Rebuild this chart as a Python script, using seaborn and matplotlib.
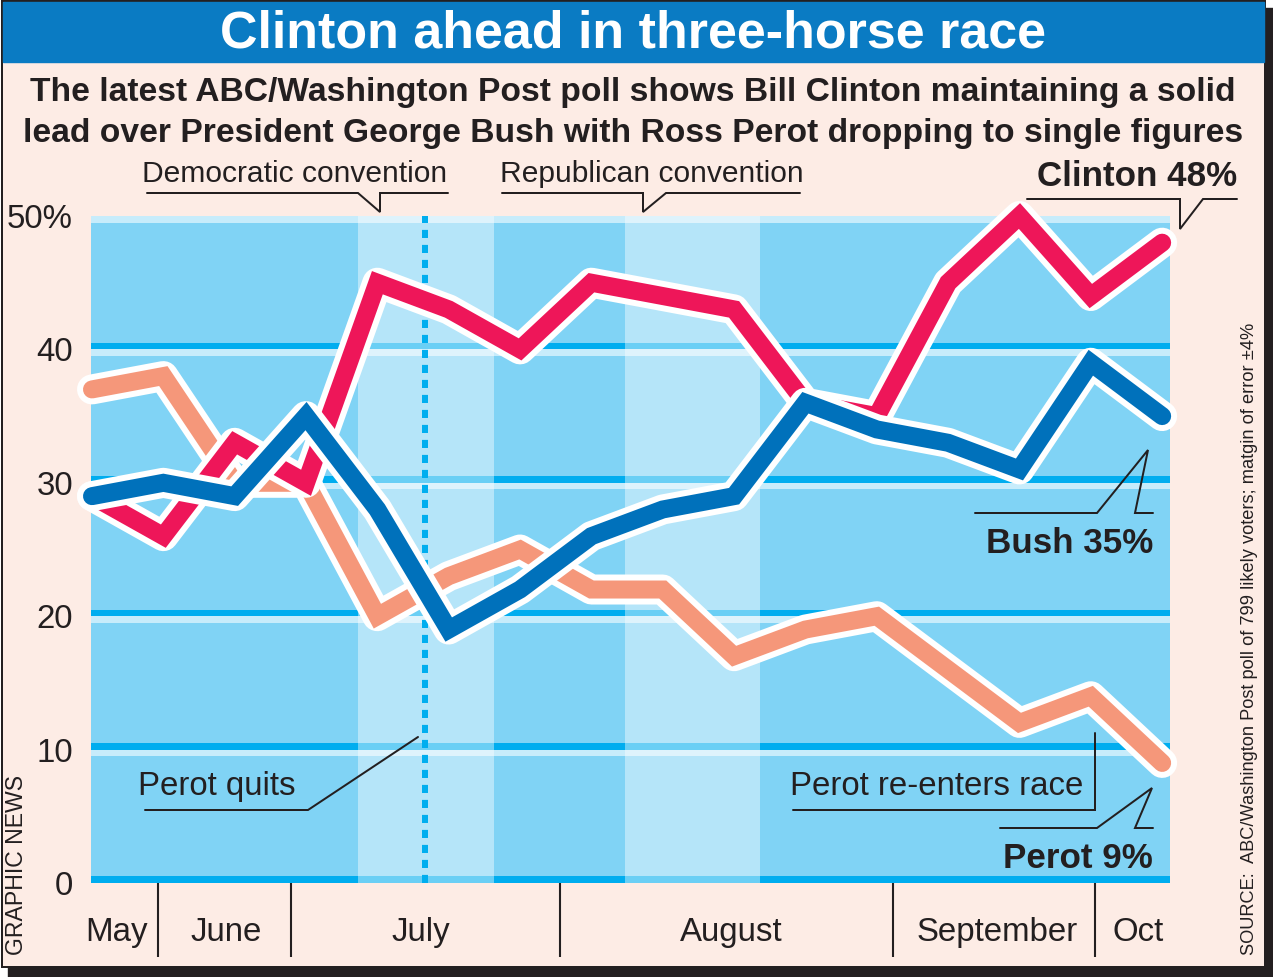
import pandas as pd
import seaborn as sns
import matplotlib.pyplot as plt
import matplotlib.patheffects as pe
from matplotlib.patches import Rectangle

sns.set_style("white")
plt.rcParams['font.family'] = ['Liberation Sans', 'DejaVu Sans']

# poll readings, oldest to newest (percent)
POLL = list(range(16))
CLINTON = [29, 26, 33, 30, 45, 43, 40, 45, 44, 43, 36, 35, 45, 50, 44, 48]
BUSH = [29, 30, 29, 35, 28, 19, 22, 26, 28, 29, 36, 34, 33, 31, 39, 35]
PEROT = [37, 38, 30, 30, 20, 23, 25, 22, 22, 17, 19, 20, 16, 12, 14, 9]

MONTHS = ['May', 'June', 'July', 'August', 'September', 'Oct']
MONTH_MID = [0.34, 1.88, 4.61, 8.96, 12.69, 14.66]
MONTH_EDGES = [0.925, 2.79, 6.56, 11.23, 14.06]
YTICKS = [0, 10, 20, 30, 40, 50]
YLABELS = ['0', '10', '20', '30', '40', '50%']
DEM_CONV = (3.73, 5.63)
REP_CONV = (7.47, 9.37)
PEROT_QUITS = 4.67

PAGE = '#fdece5'
INK = '#231f20'
PX = 0.72  # points per pixel at dpi 100

df = pd.DataFrame({
    'poll': POLL * 3,
    'pct': CLINTON + BUSH + PEROT,
    'who': ['Clinton'] * 16 + ['Bush'] * 16 + ['Perot'] * 16,
})
colors = {'Perot': '#f5977a', 'Clinton': '#ee1659', 'Bush': '#0071bb'}

W, H = 1273, 977
fig = plt.figure(figsize=(W / 100, H / 100), dpi=100, facecolor='white')

# page, frame, shadow and title bar drawn in pixel space
ov = fig.add_axes([0, 0, 1, 1], zorder=0)
ov.set_xlim(0, W)
ov.set_ylim(H, 0)
ov.axis('off')
ov.add_patch(Rectangle((8, 966), W - 8, 11, color=INK))
ov.add_patch(Rectangle((1264, 8), 9, H - 8, color=INK))
ov.add_patch(Rectangle((2, 1), 1263, 966, facecolor=PAGE, edgecolor=INK, lw=2 * PX))
ov.add_patch(Rectangle((3, 2), 1261, 60, color='#0a7bc3'))

ax = fig.add_axes([91 / W, 94 / H, (1170 - 91) / W, (883 - 216) / H], zorder=2)
ax.set_facecolor('#80d3f5')
for s in ax.spines.values():
    s.set_visible(False)
ax.set_xlim(-0.014, 15.11)
ax.set_ylim(0, 50)

for v in YTICKS:
    ax.axhspan(v, v + 0.5, color='#00adef', lw=0, zorder=1)
    ax.axhspan(v - 0.5, v, color='#c7ecfb', lw=0, zorder=1)
for a, b in (DEM_CONV, REP_CONV):
    ax.axvspan(a, b, color='white', alpha=0.42, lw=0, zorder=1.5)
ax.axvline(PEROT_QUITS, color='#00aeef', lw=6 * PX, dashes=(1.35, 1.15), zorder=1.6)

z = 3
for name in ['Perot', 'Clinton', 'Bush']:
    sns.lineplot(data=df[df['who'] == name], x='poll', y='pct', ax=ax,
                 color=colors[name], lw=18 * PX, solid_joinstyle='miter',
                 solid_capstyle='round', clip_on=False, zorder=z,
                 path_effects=[pe.Stroke(linewidth=30 * PX, foreground='white',
                                         capstyle='round', joinstyle='round'),
                               pe.Normal()])
    z += 1

ax.set_xlabel('')
ax.set_ylabel('')
ax.set_yticks(YTICKS, YLABELS)
ax.tick_params(axis='y', length=0, pad=18 * PX, labelsize=33 * PX, labelcolor=INK)
ax.set_xticks(MONTH_EDGES, [''] * len(MONTH_EDGES))
ax.set_xticks(MONTH_MID, MONTHS, minor=True)
ax.tick_params(axis='x', which='major', direction='out', length=74 * PX,
               width=1.5, color=INK, bottom=True)
ax.tick_params(axis='x', which='minor', length=0, pad=34 * PX,
               labelsize=33 * PX, labelcolor=INK)

# texts and callouts on top
top = fig.add_axes([0, 0, 1, 1], zorder=5)
top.set_xlim(0, W)
top.set_ylim(H, 0)
top.axis('off')
top.patch.set_visible(False)

top.text(633, 47, 'Clinton ahead in three-horse race', color='white',
         fontsize=52 * PX, fontweight='bold', ha='center', va='baseline')
top.text(633, 101, 'The latest ABC/Washington Post poll shows Bill Clinton maintaining a solid',
         color=INK, fontsize=33.7 * PX, fontweight='bold', ha='center', va='baseline')
top.text(633, 142, 'lead over President George Bush with Ross Perot dropping to single figures',
         color=INK, fontsize=33.7 * PX, fontweight='bold', ha='center', va='baseline')

reg = dict(color=INK, fontsize=30 * PX, va='baseline')
top.text(295, 182, 'Democratic convention', ha='center', **reg)
top.text(652, 182, 'Republican convention', ha='center', **reg)
reg2 = dict(color=INK, fontsize=33 * PX, va='baseline')
top.text(138, 795, 'Perot quits', ha='left', **reg2)
top.text(1083, 795, 'Perot re-enters race', ha='right', **reg2)
bold = dict(color=INK, fontsize=35 * PX, fontweight='bold', va='baseline', ha='right')
top.text(1237, 186, 'Clinton 48%', **bold)
top.text(1153, 553, 'Bush 35%', **bold)
top.text(1153, 868, 'Perot 9%', **bold)

top.text(17, 955, 'GRAPHIC NEWS', rotation=90, color=INK, fontsize=23 * PX,
         ha='center', va='bottom')
top.text(1250, 955, 'SOURCE:  ABC/Washington Post poll of 799 likely voters; matgin of error \u00b14%',
         rotation=90, color=INK, fontsize=18.3 * PX, ha='center', va='bottom')

callouts = [
    ([147, 358, 380, 380, 448], [193, 193, 212, 193, 193]),
    ([502, 643, 643, 666, 800], [193, 193, 212, 193, 193]),
    ([1027, 1180, 1180, 1203, 1237], [199, 199, 229, 199, 199]),
    ([975, 1097, 1148, 1135, 1153], [513, 513, 450, 513, 513]),
    ([1000, 1097, 1152, 1135, 1153], [828, 828, 788, 828, 828]),
    ([793, 1095, 1095], [810, 810, 733]),
    ([145, 308, 418], [810, 810, 737]),
]
for xs, ys in callouts:
    top.plot(xs, ys, color=INK, lw=2 * PX, solid_joinstyle='miter')

fig.savefig('out.png', dpi=100, facecolor='white')
